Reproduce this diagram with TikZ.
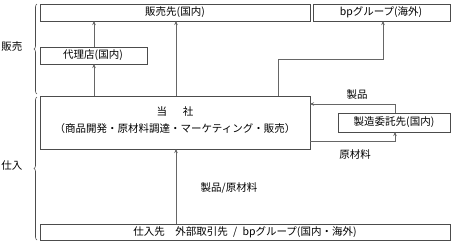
\documentclass[tikz,border=0pt]{standalone}
\usepackage{fontspec}
\setmainfont{Noto Sans CJK JP}
\usetikzlibrary{arrows.meta,decorations.pathreplacing}
\begin{document}
\begin{tikzpicture}[x=1pt,y=-1pt,
  box/.style={draw=black!70,line width=0.6pt,inner sep=0pt},
  lbl/.style={font=\fontsize{10.5}{12}\selectfont,inner sep=0pt},
  arr/.style={draw=black!60,line width=0.6pt,-{Stealth[length=4pt,width=3.5pt]}},
  brc/.style={draw=black!70,line width=0.6pt,decorate,decoration={brace,amplitude=3pt,mirror}}]
\useasboundingbox (0,0) rectangle (454,244);
% boxes
\draw[box] (40,4) rectangle (310,21);
\node[lbl] (hanbai) at (175,12.5) {販売先(国内)};
\coordinate (hbL) at (94,21);
\coordinate (hbM) at (176,21);
\draw[box] (313,4) rectangle (450,21);
\node[lbl] (bp) at (381,12.5) {bpグループ(海外)};
\coordinate (bpB) at (383,21);
\draw[box] (40,47) rectangle (147,64);
\node[lbl] (dairi) at (93,55.5) {代理店(国内)};
\coordinate (drT) at (94,47);
\coordinate (drB) at (94,64);
\draw[box] (40,96) rectangle (310,149);
\node[lbl] (tosha1) at (175,112) {当\hspace{1.5em}社};
\node[lbl] (tosha2) at (175,129) {（商品開発・原材料調達・マーケティング・販売）};
\coordinate (tsT1) at (94,96);
\coordinate (tsT2) at (176,96);
\coordinate (tsT3) at (278,96);
\coordinate (tsR1) at (310,104);
\coordinate (tsR2) at (310,141);
\coordinate (tsB) at (176,149);
\draw[box] (338,113) rectangle (450,132);
\node[lbl] (seizo) at (394,122.5) {製造委託先(国内)};
\coordinate (szT) at (395,113);
\coordinate (szB) at (395,132);
\draw[box] (40,224) rectangle (450,240);
\node[lbl] (shiire) at (245,232) {仕入先\hspace{1em}外部取引先\hspace{0.5em}/\hspace{0.5em}bpグループ(国内・海外)};
\coordinate (siT) at (176,224);
% arrows
\draw[arr] (tsT1) -- (drB);
\draw[arr] (drT) -- (hbL);
\draw[arr] (tsT2) -- (hbM);
\draw[arr] (tsT3) -- (278,59) -- (383,59) -- (bpB);
\draw[arr] (szT) -- (395,104) -- (tsR1);
\draw[arr] (tsR2) -- (395,141) -- (szB);
\draw[arr] (siT) -- (tsB);
\node[lbl] (l1) at (357,95) {製品};
\node[lbl] (l2) at (355,155) {原材料};
\node[lbl] (l3) at (229,188) {製品/原材料};
% braces
\draw[brc] (37,4) -- (37,94);
\draw[brc] (37,97) -- (37,240);
\node[lbl] (s1) at (12,47) {販売};
\node[lbl] (s2) at (12,166) {仕入};
\end{tikzpicture}
\end{document}
